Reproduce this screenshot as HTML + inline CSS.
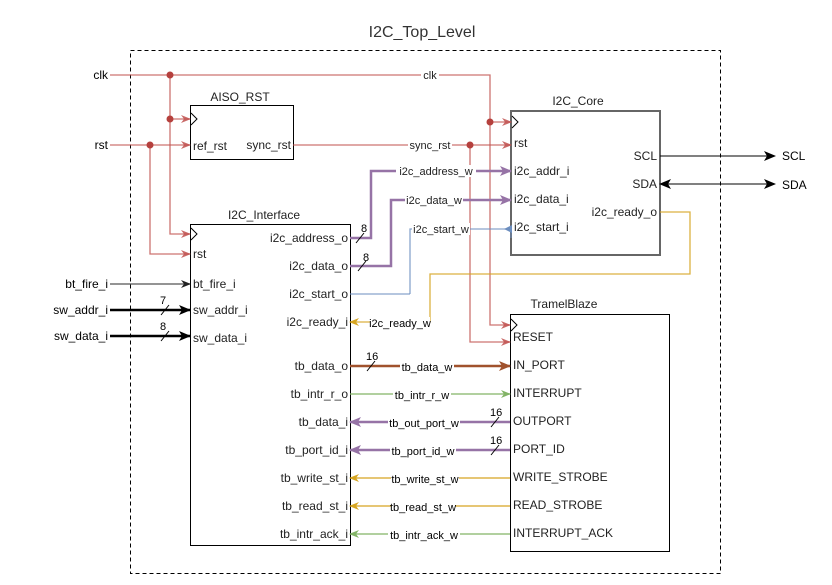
<!DOCTYPE html>
<html><head><meta charset="utf-8"><style>
html,body{margin:0;padding:0;background:#fff;}
svg{display:block;font-family:"Liberation Sans",Arial,sans-serif;font-size:12px;}
</style></head><body>
<svg width="832" height="585" viewBox="0 0 832 585" xmlns="http://www.w3.org/2000/svg">
<defs>
<marker id="ar" markerWidth="10" markerHeight="8" refX="9" refY="4" orient="auto" markerUnits="userSpaceOnUse"><path d="M0,0 L10,4 L0,8 L3,4 Z" fill="#c0504d" fill-opacity="0.85"/></marker>
<marker id="ap" markerWidth="12" markerHeight="10" refX="11" refY="5" orient="auto" markerUnits="userSpaceOnUse"><path d="M0,0 L12,5 L0,10 L3,5 Z" fill="#9673a6"/></marker>
<marker id="ab" markerWidth="12" markerHeight="10" refX="11" refY="5" orient="auto" markerUnits="userSpaceOnUse"><path d="M0,0 L12,5 L0,10 L3,5 Z" fill="#a0522d"/></marker>
<marker id="ag" markerWidth="10" markerHeight="8" refX="9" refY="4" orient="auto" markerUnits="userSpaceOnUse"><path d="M0,0 L10,4 L0,8 L3,4 Z" fill="#82b366"/></marker>
<marker id="ay" markerWidth="10" markerHeight="8" refX="9" refY="4" orient="auto" markerUnits="userSpaceOnUse"><path d="M0,0 L10,4 L0,8 L3,4 Z" fill="#d6a520"/></marker>
<marker id="al" markerWidth="8" markerHeight="8" refX="4" refY="7" orient="auto" markerUnits="userSpaceOnUse"><path d="M0,8 L4,0 L8,8 Z" fill="#6c8ebf"/></marker>
<marker id="ak" markerWidth="12" markerHeight="10" refX="11" refY="5" orient="auto" markerUnits="userSpaceOnUse"><path d="M0,0 L12,5 L0,10 L3,5 Z" fill="#000"/></marker>
<marker id="ak2" markerWidth="12" markerHeight="10" refX="11" refY="5" orient="auto-start-reverse" markerUnits="userSpaceOnUse"><path d="M0,0 L12,5 L0,10 L3,5 Z" fill="#000"/></marker>
<marker id="agr" markerWidth="10" markerHeight="8" refX="9" refY="4" orient="auto" markerUnits="userSpaceOnUse"><path d="M0,0 L10,4 L0,8 L3,4 Z" fill="#222"/></marker>
</defs>

<text x="422" y="37" font-size="16" text-anchor="middle" fill="#333">I2C_Top_Level</text>
<rect x="130.5" y="50.5" width="590" height="523" fill="none" stroke="#000" stroke-dasharray="4,3"/>

<rect x="190.5" y="105.5" width="103" height="54" fill="#fff" stroke="#000"/>
<text x="240" y="101" text-anchor="middle" fill="#222">AISO_RST</text>
<rect x="190.5" y="224.5" width="160" height="321" fill="#fff" stroke="#000"/>
<text x="264" y="219" text-anchor="middle" fill="#222">I2C_Interface</text>
<rect x="511" y="111" width="149" height="144" fill="#fff" stroke="#666" stroke-width="2"/>
<text x="578" y="105" text-anchor="middle" fill="#222">I2C_Core</text>
<rect x="510.5" y="314.5" width="159" height="237" fill="#fff" stroke="#000"/>
<text x="564" y="308" text-anchor="middle" fill="#222">TramelBlaze</text>

<path d="M191,113 L197,119 L191,125" fill="none" stroke="#000"/>
<path d="M191,228 L197,234 L191,240" fill="none" stroke="#000"/>
<path d="M512,116 L518,122 L512,128" fill="none" stroke="#000"/>
<path d="M511,319 L517,325 L511,331" fill="none" stroke="#000"/>

<g stroke="#c0504d" stroke-opacity="0.8" fill="none" stroke-width="1.3">
<path d="M110,75 H490 V325 H510" marker-end="url(#ar)"/>
<path d="M170,75 V234 H190" marker-end="url(#ar)"/>
<path d="M170,119 H190" marker-end="url(#ar)"/>
<path d="M490,122 H511" marker-end="url(#ar)"/>
<path d="M110,145 H190" marker-end="url(#ar)"/>
<path d="M150,145 V254 H190" marker-end="url(#ar)"/>
<path d="M293,145 H511" marker-end="url(#ar)"/>
<path d="M470,145 V342 H510" marker-end="url(#ar)"/>
</g>
<g fill="#b5403d"><circle cx="170" cy="75" r="3.5"/><circle cx="170" cy="119" r="3.5"/><circle cx="150" cy="145" r="3.5"/><circle cx="490" cy="122" r="3.5"/><circle cx="470" cy="145" r="3.5"/></g>
<rect x="421" y="69" width="18" height="12" fill="#fff"/><text x="430" y="79" text-anchor="middle" font-size="11" fill="#222">clk</text>
<rect x="408" y="139" width="44" height="12" fill="#fff"/><text x="430" y="149" text-anchor="middle" font-size="11" fill="#222">sync_rst</text>

<g stroke="#9673a6" stroke-width="2.5" fill="none">
<path d="M350,238 H371 V171 H511" marker-end="url(#ap)"/>
<path d="M350,266 H391 V200 H511" marker-end="url(#ap)"/>
</g>
<path d="M410,294 V229 H511" stroke="#6c8ebf" stroke-opacity="0.8" fill="none" stroke-width="1.3"/>
<path d="M350,294 H410" stroke="#6c8ebf" stroke-opacity="0.8" fill="none" stroke-width="1.3"/>
<path d="M511,238 V229" stroke="#6c8ebf" stroke-width="1" marker-end="url(#al)"/>
<g font-size="11" fill="#222">
<rect x="396" y="165" width="80" height="12" fill="#fff"/><text x="436" y="175" text-anchor="middle">i2c_address_w</text>
<rect x="405" y="194" width="58" height="12" fill="#fff"/><text x="434" y="204" text-anchor="middle">i2c_data_w</text>
<rect x="412" y="223" width="58" height="12" fill="#fff"/><text x="441" y="233" text-anchor="middle">i2c_start_w</text>
</g>
<g stroke="#000" stroke-width="1"><line x1="356" y1="243" x2="364" y2="233"/><line x1="358" y1="271" x2="366" y2="261"/></g>
<text x="361" y="232" font-size="11">8</text><text x="363" y="261" font-size="11">8</text>

<path d="M660,212 H690 V274 H430 V322 H350" stroke="#d6a520" stroke-opacity="0.85" fill="none" stroke-width="1.3" marker-end="url(#ay)"/>
<rect x="370" y="317" width="60" height="12" fill="#fff"/><text x="400" y="327" text-anchor="middle" font-size="11">i2c_ready_w</text>

<path d="M660,156 H775" stroke="#000" marker-end="url(#ak)"/>
<path d="M660,184 H775" stroke="#000" marker-end="url(#ak2)" marker-start="url(#ak2)"/>
<text x="782" y="160">SCL</text><text x="782" y="189">SDA</text>

<path d="M110,284 H190" stroke="#555" stroke-width="1.3" marker-end="url(#agr)"/>
<path d="M110,310 H190" stroke="#000" stroke-width="2.5" marker-end="url(#ak)"/>
<path d="M110,336 H190" stroke="#000" stroke-width="2.5" marker-end="url(#ak)"/>
<line x1="161" y1="315" x2="169" y2="305" stroke="#000"/><text x="160" y="304" font-size="11">7</text>
<line x1="161" y1="341" x2="169" y2="331" stroke="#000"/><text x="160" y="330" font-size="11">8</text>
<g text-anchor="end"><text x="108" y="79">clk</text><text x="108" y="149">rst</text><text x="108" y="288">bt_fire_i</text><text x="108" y="314">sw_addr_i</text><text x="108" y="340">sw_data_i</text></g>

<path d="M350,366 H510" stroke="#a0522d" stroke-width="2.5" marker-end="url(#ab)"/>
<path d="M350,394 H510" stroke="#82b366" stroke-width="1.3" marker-end="url(#ag)"/>
<path d="M510,422 H350" stroke="#9673a6" stroke-width="2.5" marker-end="url(#ap)"/>
<path d="M510,450 H350" stroke="#9673a6" stroke-width="2.5" marker-end="url(#ap)"/>
<path d="M510,478 H350" stroke="#d6a520" stroke-width="1.3" marker-end="url(#ay)"/>
<path d="M510,506 H350" stroke="#d6a520" stroke-width="1.3" marker-end="url(#ay)"/>
<path d="M510,534 H350" stroke="#82b366" stroke-width="1.3" marker-end="url(#ag)"/>
<g stroke="#000"><line x1="367" y1="371" x2="375" y2="361"/><line x1="491" y1="427" x2="499" y2="417"/><line x1="491" y1="455" x2="499" y2="445"/></g>
<g font-size="11"><text x="366" y="360">16</text><text x="490" y="416">16</text><text x="490" y="444">16</text></g>
<g font-size="11" text-anchor="middle">
<rect x="400" y="361" width="54" height="12" fill="#fff"/><text x="427" y="371">tb_data_w</text>
<rect x="393" y="389" width="58" height="12" fill="#fff"/><text x="422" y="399">tb_intr_r_w</text>
<rect x="388" y="417" width="72" height="12" fill="#fff"/><text x="424" y="427">tb_out_port_w</text>
<rect x="390" y="445" width="66" height="12" fill="#fff"/><text x="423" y="455">tb_port_id_w</text>
<rect x="391" y="473" width="68" height="12" fill="#fff"/><text x="425" y="483">tb_write_st_w</text>
<rect x="391" y="501" width="64" height="12" fill="#fff"/><text x="423" y="511">tb_read_st_w</text>
<rect x="388" y="529" width="72" height="12" fill="#fff"/><text x="424" y="539">tb_intr_ack_w</text>
</g>

<g fill="#222">
<text x="193" y="150">ref_rst</text>
<text x="291" y="149" text-anchor="end">sync_rst</text>
<text x="193" y="258">rst</text><text x="193" y="288">bt_fire_i</text><text x="193" y="314">sw_addr_i</text><text x="193" y="342">sw_data_i</text>
<g text-anchor="end">
<text x="348" y="242">i2c_address_o</text><text x="348" y="270">i2c_data_o</text><text x="348" y="298">i2c_start_o</text><text x="348" y="326">i2c_ready_i</text>
<text x="348" y="370">tb_data_o</text><text x="348" y="398">tb_intr_r_o</text><text x="348" y="426">tb_data_i</text><text x="348" y="454">tb_port_id_i</text><text x="348" y="482">tb_write_st_i</text><text x="348" y="510">tb_read_st_i</text><text x="348" y="538">tb_intr_ack_i</text>
<text x="657" y="160">SCL</text><text x="657" y="188">SDA</text><text x="657" y="216">i2c_ready_o</text>
</g>
<text x="514" y="147">rst</text><text x="514" y="175">i2c_addr_i</text><text x="514" y="203">i2c_data_i</text><text x="514" y="231">i2c_start_i</text>
<text x="513" y="341">RESET</text><text x="513" y="369">IN_PORT</text><text x="513" y="397">INTERRUPT</text><text x="513" y="425">OUTPORT</text><text x="513" y="453">PORT_ID</text><text x="513" y="481">WRITE_STROBE</text><text x="513" y="509">READ_STROBE</text><text x="513" y="537">INTERRUPT_ACK</text>
</g>
</svg>
</body></html>
